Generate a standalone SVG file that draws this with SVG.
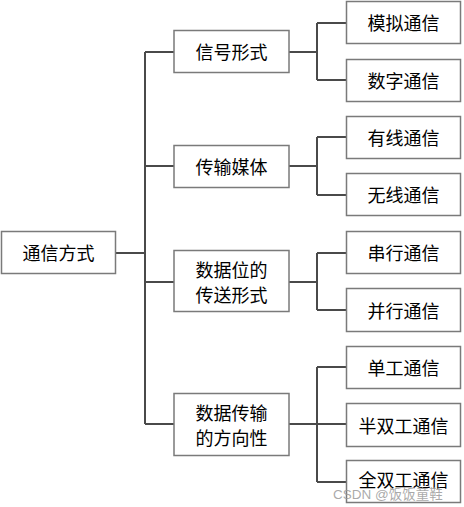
<svg xmlns="http://www.w3.org/2000/svg" width="464" height="507" viewBox="0 0 464 507">
<style>
.box{fill:#fff;stroke:#7a7a7a;stroke-width:1.5}
.t{font-family:"Noto Sans CJK SC","Liberation Sans",sans-serif;font-size:18px;fill:#000;text-anchor:middle;dominant-baseline:central}
.c{fill:none;stroke:#4a4a4a;stroke-width:2}
.wm{font-family:"Liberation Sans","Noto Sans CJK SC",sans-serif;font-size:13.5px;fill:#9a9a9a;fill-opacity:0.85}
</style>
<rect width="464" height="507" fill="#fff"/>
<g id="connectors">
<path class="c" d="M116 253H145M145 52V424M145 52H174M145 166H174M145 282H174M145 424H174"/>
<path class="c" d="M289 52H317M317 23V80M317 23H346M317 80H346"/>
<path class="c" d="M289 166H317M317 137V195M317 137H346M317 195H346"/>
<path class="c" d="M289 282H317M317 253V310M317 253H346M317 310H346"/>
<path class="c" d="M289 424H346M317 367V482M317 367H346M317 482H346"/>
</g>
<g id="root"><rect class="box" x="1.5" y="231.5" width="114" height="42"/><text class="t" x="58.5" y="252">通信方式</text></g>
<g id="n1"><rect class="box" x="174" y="30.5" width="115" height="42"/><text class="t" x="231.5" y="51">信号形式</text></g>
<g id="n2"><rect class="box" x="174" y="145.5" width="115" height="42"/><text class="t" x="231.5" y="166">传输媒体</text></g>
<g id="n3"><rect class="box" x="174" y="250.5" width="115" height="61"/><text class="t" x="231.5" y="268.5">数据位的</text><text class="t" x="231.5" y="293.5">传送形式</text></g>
<g id="n4"><rect class="box" x="174" y="393.5" width="115" height="62"/><text class="t" x="231.5" y="411.5">数据传输</text><text class="t" x="231.5" y="436.5">的方向性</text></g>
<g id="l1"><rect class="box" x="346.5" y="1.5" width="114" height="42"/><text class="t" x="403.5" y="22">模拟通信</text></g>
<g id="l2"><rect class="box" x="346.5" y="59.5" width="114" height="42"/><text class="t" x="403.5" y="80">数字通信</text></g>
<g id="l3"><rect class="box" x="346.5" y="116.5" width="114" height="42"/><text class="t" x="403.5" y="137">有线通信</text></g>
<g id="l4"><rect class="box" x="346.5" y="173.5" width="114" height="42"/><text class="t" x="403.5" y="194">无线通信</text></g>
<g id="l5"><rect class="box" x="346.5" y="231.5" width="114" height="42"/><text class="t" x="403.5" y="252">串行通信</text></g>
<g id="l6"><rect class="box" x="346.5" y="288.5" width="114" height="43"/><text class="t" x="403.5" y="309.5">并行通信</text></g>
<g id="l7"><rect class="box" x="346.5" y="346.5" width="114" height="42"/><text class="t" x="403.5" y="367">单工通信</text></g>
<g id="l8"><rect class="box" x="346.5" y="403.5" width="114" height="43"/><text class="t" x="403.5" y="424.5">半双工通信</text></g>
<g id="l9"><rect class="box" x="346.5" y="460.5" width="114" height="42"/><text class="t" x="403.5" y="479">全双工通信</text></g>
<text class="wm" x="333" y="499">CSDN @饭饭童鞋</text>
</svg>
